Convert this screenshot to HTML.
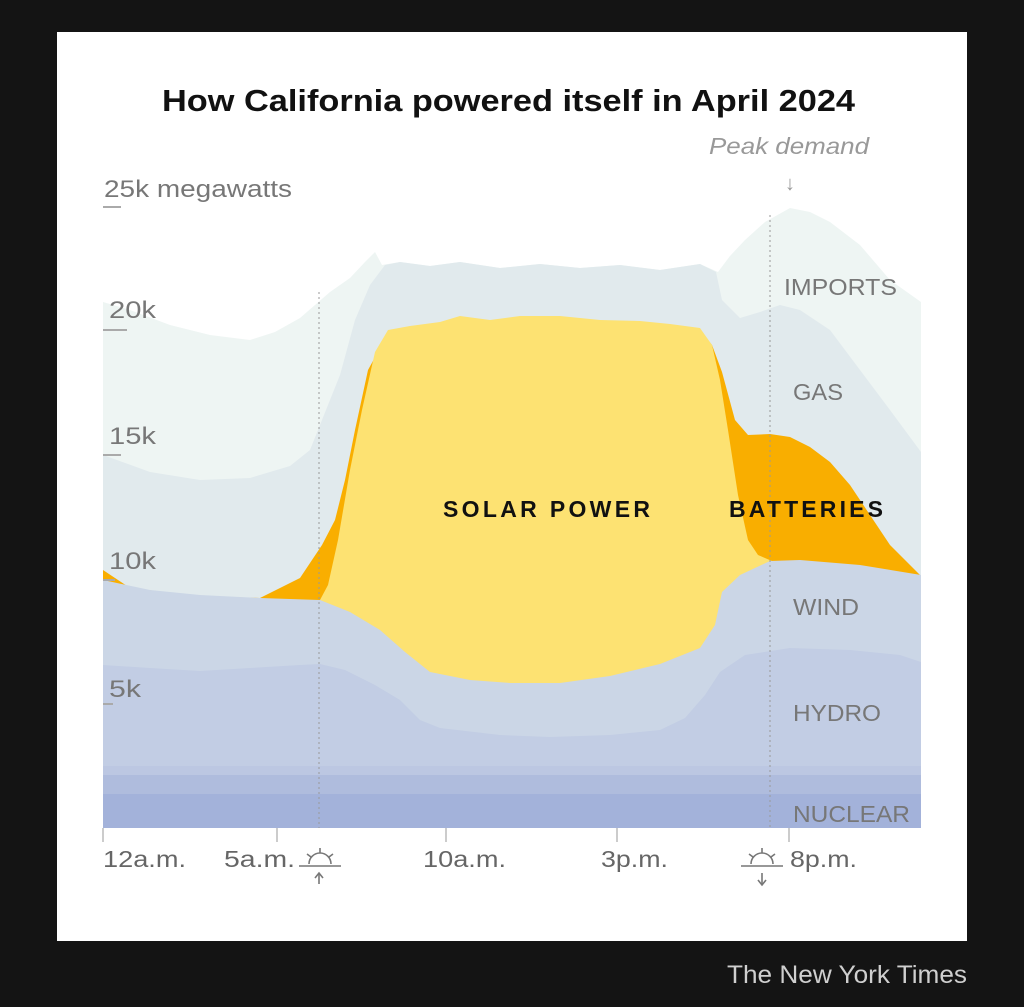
<!DOCTYPE html>
<html><head><meta charset="utf-8"><style>
html,body{margin:0;padding:0;background:#141414;}
svg{display:block}
text{font-family:"Liberation Sans",sans-serif}
</style></head><body>
<svg width="1024" height="1007" viewBox="0 0 1024 1007" xmlns="http://www.w3.org/2000/svg">
<rect x="0" y="0" width="1024" height="1007" fill="#141414"/>
<rect x="57" y="32" width="910" height="909" fill="#ffffff"/>
<text x="162" y="111" font-size="31" font-weight="bold" fill="#111" textLength="693" lengthAdjust="spacingAndGlyphs">How California powered itself in April 2024</text>

<!-- imports -->
<path d="M103,302 L130,310 L170,325 L210,335 L250,340 L275,332 L300,318 L330,292 L350,278 L365,262 L375,252 L382,265 L400,262 L430,266 L460,262 L500,268 L540,264 L580,268 L620,265 L660,270 L700,264 L718,272 L730,256 L745,240 L765,222 L790,208 L810,212 L830,222 L860,245 L890,280 L921,302 L921,828 L103,828 Z" fill="#eef5f3"/>
<!-- gas -->
<path d="M103,455 L150,472 L200,480 L250,478 L290,466 L310,450 L322,420 L340,375 L355,320 L370,285 L385,265 L400,262 L430,266 L460,262 L500,268 L540,264 L580,268 L620,265 L660,270 L700,264 L716,272 L722,300 L740,318 L760,312 L780,305 L800,310 L830,330 L860,370 L890,410 L921,452 L921,828 L103,828 Z" fill="#e1eaed"/>
<!-- batteries -->
<path d="M103,570 L112,576 L130,588 L200,596 L260,598 L280,588 L300,578 L312,560 L322,545 L335,520 L345,480 L355,430 L368,370 L390,330 L700,330 L712,345 L722,372 L735,420 L748,435 L770,434 L790,437 L810,447 L830,462 L850,485 L870,515 L890,545 L905,560 L921,576 L921,828 L103,828 Z" fill="#f9ae00"/>
<!-- solar -->
<path d="M320,600 L328,585 L338,540 L350,470 L362,410 L375,352 L388,330 L410,326 L440,322 L460,316 L490,320 L520,316 L560,316 L600,320 L640,321 L670,324 L700,328 L712,345 L720,380 L728,430 L738,495 L748,540 L758,555 L772,561 L772,828 L320,828 Z" fill="#fde272"/>
<!-- wind -->
<path d="M103,580 L150,590 L200,595 L260,598 L320,600 L350,612 L380,630 L405,652 L430,672 L470,680 L510,683 L560,683 L610,676 L660,664 L700,648 L715,625 L722,592 L740,575 L770,561 L800,560 L860,565 L921,575 L921,828 L103,828 Z" fill="#cbd6e6"/>
<!-- hydro -->
<path d="M103,665 L150,668 L200,671 L250,668 L300,665 L320,664 L345,670 L375,685 L400,700 L420,720 L440,728 L500,735 L550,737 L610,735 L660,730 L685,718 L705,695 L720,672 L745,655 L790,648 L850,650 L900,655 L921,662 L921,828 L103,828 Z" fill="#c2cde4"/>
<rect x="103" y="766" width="818" height="62" fill="#bcc7e2"/>
<rect x="103" y="775" width="818" height="53" fill="#afbcdd"/>
<rect x="103" y="794" width="818" height="34" fill="#a3b2da"/>

<!-- dotted lines -->
<line x1="319" y1="292" x2="319" y2="828" stroke="#999" stroke-width="1" stroke-dasharray="2,3"/>
<line x1="770" y1="215" x2="770" y2="828" stroke="#999" stroke-width="1" stroke-dasharray="2,3"/>

<!-- y axis -->
<g fill="#777" font-size="24">
<text x="104" y="197" textLength="188" lengthAdjust="spacingAndGlyphs">25k megawatts</text>
<text x="109" y="318" textLength="47" lengthAdjust="spacingAndGlyphs">20k</text>
<text x="109" y="444" textLength="47" lengthAdjust="spacingAndGlyphs">15k</text>
<text x="109" y="569" textLength="47" lengthAdjust="spacingAndGlyphs">10k</text>
<text x="109" y="697" textLength="32" lengthAdjust="spacingAndGlyphs">5k</text>
</g>
<g stroke="#aaa" stroke-width="2">
<line x1="103" y1="207" x2="121" y2="207"/>
<line x1="103" y1="330" x2="127" y2="330"/>
<line x1="103" y1="455" x2="121" y2="455"/>
<line x1="103" y1="580" x2="115" y2="580"/>
<line x1="103" y1="704" x2="113" y2="704"/>
</g>

<!-- x axis -->
<g stroke="#bbb" stroke-width="1.5">
<line x1="103" y1="828" x2="103" y2="842"/>
<line x1="277" y1="828" x2="277" y2="842"/>
<line x1="446" y1="828" x2="446" y2="842"/>
<line x1="617" y1="828" x2="617" y2="842"/>
<line x1="789" y1="828" x2="789" y2="842"/>
</g>
<g fill="#666" font-size="23">
<text x="103" y="867" textLength="83" lengthAdjust="spacingAndGlyphs">12a.m.</text>
<text x="224" y="867" textLength="71" lengthAdjust="spacingAndGlyphs">5a.m.</text>
<text x="423" y="867" textLength="83" lengthAdjust="spacingAndGlyphs">10a.m.</text>
<text x="601" y="867" textLength="67" lengthAdjust="spacingAndGlyphs">3p.m.</text>
<text x="790" y="867" textLength="67" lengthAdjust="spacingAndGlyphs">8p.m.</text>
</g>
<!-- sun icons -->
<g stroke="#777" stroke-width="1.6" fill="none">
<path d="M299,866 L341,866"/><path d="M309,864 A11,11 0 0 1 331,864"/>
<path d="M320,848 L320,853 M307,854 L311,857 M333,854 L329,857"/>
<path d="M319,884 L319,874"/><path d="M315,878 L319,873 L323,878"/>
<path d="M741,866 L783,866"/><path d="M751,864 A11,11 0 0 1 773,864"/>
<path d="M762,848 L762,853 M749,854 L753,857 M775,854 L771,857"/>
<path d="M762,873 L762,884"/><path d="M758,880 L762,885 L766,880"/>
</g>

<!-- annotations -->
<text x="709" y="154" font-size="23" font-style="italic" fill="#999" textLength="160" lengthAdjust="spacingAndGlyphs">Peak demand</text>
<text x="790" y="190" font-size="20" fill="#999" text-anchor="middle">↓</text>
<g fill="#777" font-size="23">
<text x="784" y="295" textLength="113" lengthAdjust="spacingAndGlyphs">IMPORTS</text>
<text x="793" y="400" textLength="50" lengthAdjust="spacingAndGlyphs">GAS</text>
<text x="793" y="615" textLength="66" lengthAdjust="spacingAndGlyphs">WIND</text>
<text x="793" y="721" textLength="88" lengthAdjust="spacingAndGlyphs">HYDRO</text>
<text x="793" y="822" textLength="117" lengthAdjust="spacingAndGlyphs">NUCLEAR</text>
</g>
<g fill="#111" font-size="23" font-weight="bold">
<text x="443" y="517" textLength="207" lengthAdjust="spacing">SOLAR POWER</text>
<text x="729" y="517" textLength="154" lengthAdjust="spacing">BATTERIES</text>
</g>
<text x="967" y="983" font-size="25" fill="#cfcfcf" text-anchor="end" textLength="240" lengthAdjust="spacingAndGlyphs">The New York Times</text>
</svg>
</body></html>
